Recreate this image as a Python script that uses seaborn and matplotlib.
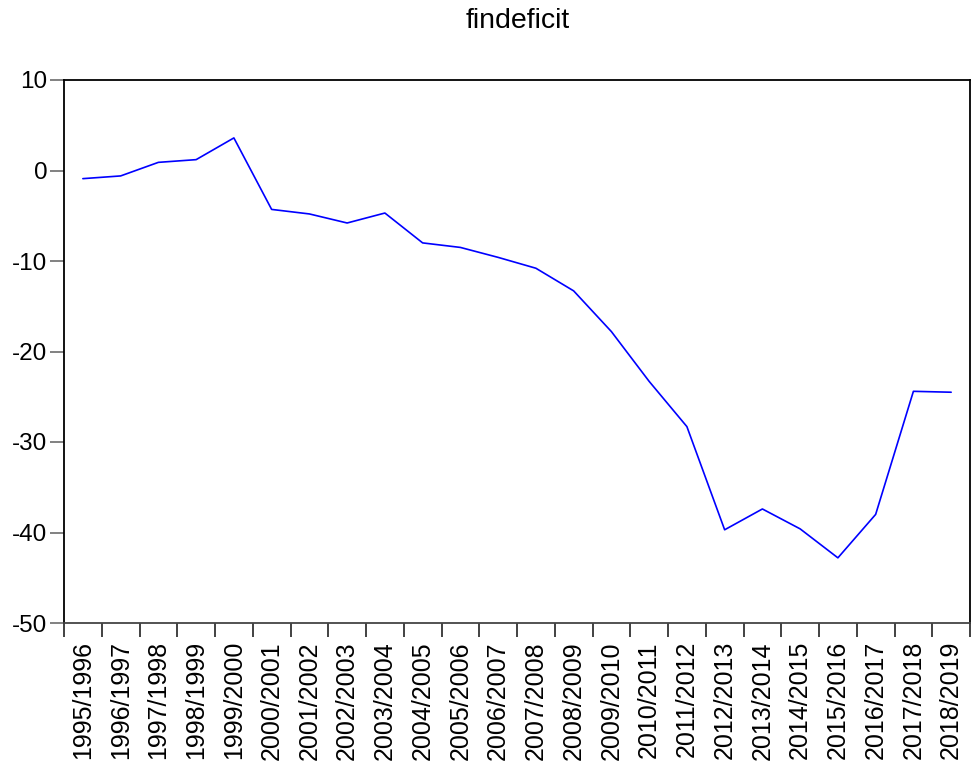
import pandas as pd
import seaborn as sb
import matplotlib.pyplot as plt
from matplotlib.ticker import FixedLocator

years = ['1995/1996', '1996/1997', '1997/1998', '1998/1999', '1999/2000',
         '2000/2001', '2001/2002', '2002/2003', '2003/2004', '2004/2005',
         '2005/2006', '2006/2007', '2007/2008', '2008/2009', '2009/2010',
         '2010/2011', '2011/2012', '2012/2013', '2013/2014', '2014/2015',
         '2015/2016', '2016/2017', '2017/2018', '2018/2019']
findeficit = [-0.9, -0.6, 0.9, 1.2, 3.6, -4.3, -4.8, -5.8, -4.7, -8.0,
              -8.5, -9.6, -10.8, -13.3, -17.8, -23.3, -28.3, -39.7, -37.4,
              -39.6, -42.8, -38.0, -24.4, -24.5]
yticks = [10, 0, -10, -20, -30, -40, -50]

df = pd.DataFrame({'year': years, 'findeficit': findeficit})

sb.set_style('white')
plt.rcParams['font.family'] = ['Liberation Sans', 'DejaVu Sans']
plt.rcParams['text.color'] = 'black'
plt.rcParams['xtick.color'] = 'black'
plt.rcParams['ytick.color'] = 'black'

fig = plt.figure(figsize=(9.71, 7.64), dpi=100)
ax = fig.add_axes([64/971, 1-623/764, 1-64/971 - 0.001, (623-80)/764])

sb.lineplot(data=df, x='year', y='findeficit', color='#0000ff', linewidth=1.2, ax=ax, sort=False)

ax.set_xlim(-0.5, len(years) - 0.5)
ax.set_ylim(-50, 10)
ax.set_yticks(yticks)
ax.set_yticklabels([str(t) for t in yticks], fontsize=17.5, color='black')
ax.set_xticks(range(len(years)))
ax.set_xticklabels(years, rotation=90, fontsize=18, color='black')
ax.xaxis.set_minor_locator(FixedLocator([i - 0.5 for i in range(len(years) + 1)]))
ax.tick_params(axis='x', which='major', length=0, pad=13)
ax.tick_params(axis='x', which='minor', length=10, width=1.3, color='#333333', direction='out', bottom=True)
ax.tick_params(axis='y', which='major', length=10, width=1.3, color='#777777', direction='out', left=True, pad=2)
ax.set_xlabel('')
ax.set_ylabel('')
for s in ax.spines.values():
    s.set_color('black')
    s.set_linewidth(1.3)
ax.spines['bottom'].set_color('#444444')
fig.text((64 + 971) / 2 / 971, 1 - 21 / 764, 'findeficit', ha='center', va='center',
         fontsize=20.5, color='black')

plt.savefig('out.png', dpi=100)
